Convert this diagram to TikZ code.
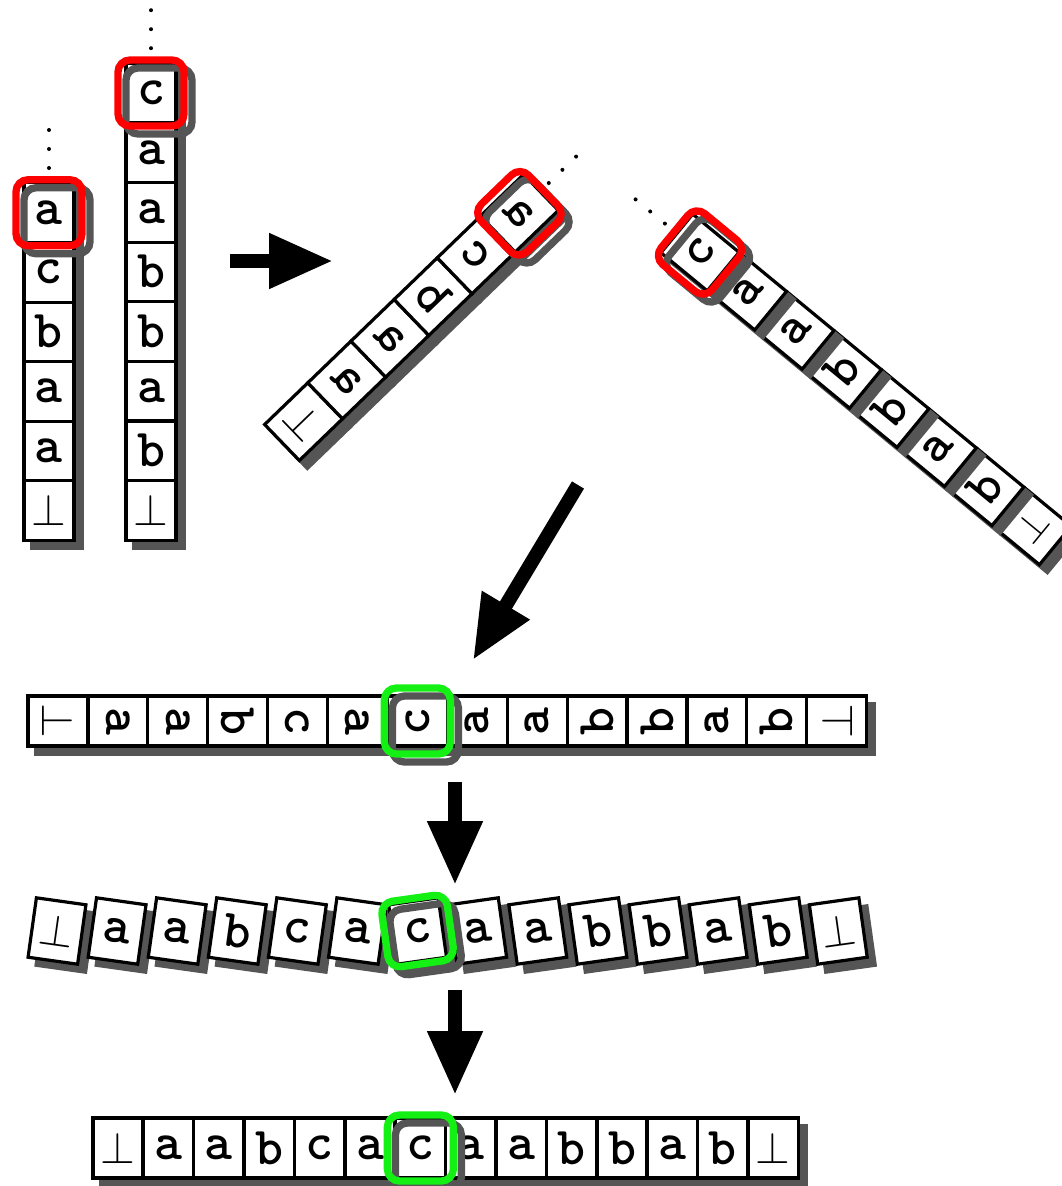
\documentclass[tikz,border=0pt]{standalone}
\usepackage{graphicx}
\usetikzlibrary{arrows.meta,calc}
\definecolor{shd}{RGB}{85,85,85}
\definecolor{hlred}{RGB}{255,0,0}
\definecolor{hlgreen}{RGB}{20,240,20}
\newcommand\btm{\resizebox{26pt}{!}{$\bot$}}
\newcommand\btms{\resizebox{23pt}{!}{$\bot$}}
\tikzset{
  cellbox/.style={draw=black, fill=white, line width=2.4pt, minimum width=37.5pt, minimum height=45pt, inner sep=0pt, font=\fontsize{40}{44}\selectfont\ttfamily\bfseries},
  cellshd/.style={draw=shd, fill=shd, line width=2.4pt, minimum width=37.5pt, minimum height=45pt, inner sep=0pt},
  hlbox/.style={draw=#1, line width=5.5pt, rounded corners=9pt, minimum width=49.5pt, minimum height=49.5pt, inner sep=0pt},
  dotmark/.style={circle, fill=black, inner sep=0pt, minimum size=3pt},
  bigarrow/.style={line width=10.5pt, -{Triangle[length=48pt, width=39pt]}},
}
\begin{document}
\begin{tikzpicture}[x=0.75pt, y=-0.75pt]
\useasboundingbox (0,0) rectangle (1061,1186);

% ---------- stack 1 (vertical) ----------
\foreach \l [count=\k from 0] in {\btm,a,a,b,c,a}
  \node[cellshd] (s1s-\k) at ({49+8},{510.25-59.5*\k+8}) {};
\foreach \l [count=\k from 0] in {\btm,a,a,b,c,a}
  \node[cellbox] (s1-\k) at (49,{510.25-59.5*\k}) {\l};
\node[hlbox=shd] (h1s) at ($(s1-5.center)+(8,8)$) {};
\node[hlbox=hlred] (h1) at (s1-5.center) {};
\foreach \d in {15,34,53}
  \node[dotmark] (d1-\d) at (49,{183-\d}) {};

% ---------- stack 2 (vertical) ----------
\foreach \l [count=\k from 0] in {\btm,b,a,b,b,a,a,c}
  \node[cellshd] (s2s-\k) at ({151+8},{510.2-59.6*\k+8}) {};
\foreach \l [count=\k from 0] in {\btm,b,a,b,b,a,a,c}
  \node[cellbox] (s2-\k) at (151,{510.2-59.6*\k}) {\l};
\node[hlbox=shd] (h2s) at ($(s2-7.center)+(8,8)$) {};
\node[hlbox=hlred] (h2) at (s2-7.center) {};
\foreach \d in {15,34,53}
  \node[dotmark] (d2-\d) at (151,{63.2-\d}) {};

% ---------- stack A (rotated) ----------
\foreach \l [count=\k from 0] in {\btm,a,a,b,c,a}
  \node[cellshd, rotate=-46] (sas-\k) at ({282+(30+60*\k)*cos(44)+8},{442.5-(30+60*\k)*sin(44)+8}) {};
\foreach \l [count=\k from 0] in {\btm,a,a,b,c,a}
  \node[cellbox, rotate=-46] (sa-\k) at ({282+(30+60*\k)*cos(44)},{442.5-(30+60*\k)*sin(44)}) {\reflectbox{\l}};
\node[hlbox=shd, rotate=-46] (h3s) at ($(sa-5.center)+(8,8)$) {};
\node[hlbox=hlred, rotate=-46] (h3) at (sa-5.center) {};
\foreach \d in {15,34,53}
  \node[dotmark] (d3-\d) at ({282+(360+\d)*cos(44)-3},{442.5-(360+\d)*sin(44)+1}) {};

% ---------- stack B (rotated) ----------
\foreach \k/\l in {7/\btms,6/b,5/a,4/b,3/b,2/a,1/a,0/c} {
  \node[cellshd, rotate=50.5] (sbs-\k) at ({700+61.5*\k*cos(39.5)+8},{252.5+61.5*\k*sin(39.5)+8}) {};
  \node[cellbox, rotate=50.5] (sb-\k) at ({700+61.5*\k*cos(39.5)},{252.5+61.5*\k*sin(39.5)}) {\l};
}
\node[hlbox=shd, rotate=50.5] (h4s) at ($(sb-0.center)+(8,8)$) {};
\node[hlbox=hlred, rotate=50.5] (h4) at (sb-0.center) {};
\foreach \d in {15,34,53}
  \node[dotmark] (d4-\d) at ({700-(30.5+\d)*cos(39.5)},{252.5-(30.5+\d)*sin(39.5)}) {};

% ---------- row 1 ----------
\foreach \l [count=\k from 0] in {\btm,a,a,b,c,a,c,a,a,b,b,a,b,\btm}
  \node[cellshd, rotate={ifthenelse(\k<6,-90,90)}] (r1s-\k) at ({58+59.9*\k+8},{721+8}) {};
\foreach \l [count=\k from 0] in {\btm,a,a,b,c,a,c,a,a,b,b,a,b,\btm}
  \node[cellbox, rotate={ifthenelse(\k<6,-90,90)}] (r1-\k) at ({58+59.9*\k},721) {\l};
\node[hlbox=shd] (h5s) at ($(r1-6.center)+(8,8)$) {};
\node[hlbox=hlgreen] (h5) at (r1-6.center) {};

% ---------- row 2 ----------
\foreach \l [count=\k from 0] in {\btm,a,a,b,c,a,c,a,a,b,b,a,b,\btm}
  \node[cellshd, rotate={ifthenelse(\k<6,-8,8)}] (r2s-\k) at ({57+60.1*\k+8},{931+8}) {};
\foreach \l [count=\k from 0] in {\btm,a,a,b,c,a,c,a,a,b,b,a,b,\btm}
  \node[cellbox, rotate={ifthenelse(\k<6,-8,8)}] (r2-\k) at ({57+60.1*\k},931) {\l};
\node[hlbox=shd, rotate=8] (h6s) at ($(r2-6.center)+(8,8)$) {};
\node[hlbox=hlgreen, rotate=8] (h6) at (r2-6.center) {};

% ---------- row 3 ----------
\foreach \l [count=\k from 0] in {\btm,a,a,b,c,a,c,a,a,b,b,a,b,\btm}
  \node[cellshd] (r3s-\k) at ({118+50.4*\k+8},{1148+8}) {};
\foreach \l [count=\k from 0] in {\btm,a,a,b,c,a,c,a,a,b,b,a,b,\btm}
  \node[cellbox] (r3-\k) at ({118+50.4*\k},1148) {\l};
\node[hlbox=shd] (h7s) at ($(r3-6.center)+(8,8)$) {};
\node[hlbox=hlgreen] (h7) at (r3-6.center) {};

% ---------- arrows ----------
\coordinate (a1s) at (230,261);
\coordinate (a1e) at (333,261);
\coordinate (a2s) at (578,485);
\coordinate (a2e) at (473,660);
\coordinate (a3s) at (455,782);
\coordinate (a3e) at (455,885);
\coordinate (a4s) at (455,990);
\coordinate (a4e) at (455,1095);
\draw[bigarrow] (a1s) -- (a1e);
\draw[bigarrow] (a2s) -- (a2e);
\draw[bigarrow] (a3s) -- (a3e);
\draw[bigarrow] (a4s) -- (a4e);
\end{tikzpicture}
\end{document}
